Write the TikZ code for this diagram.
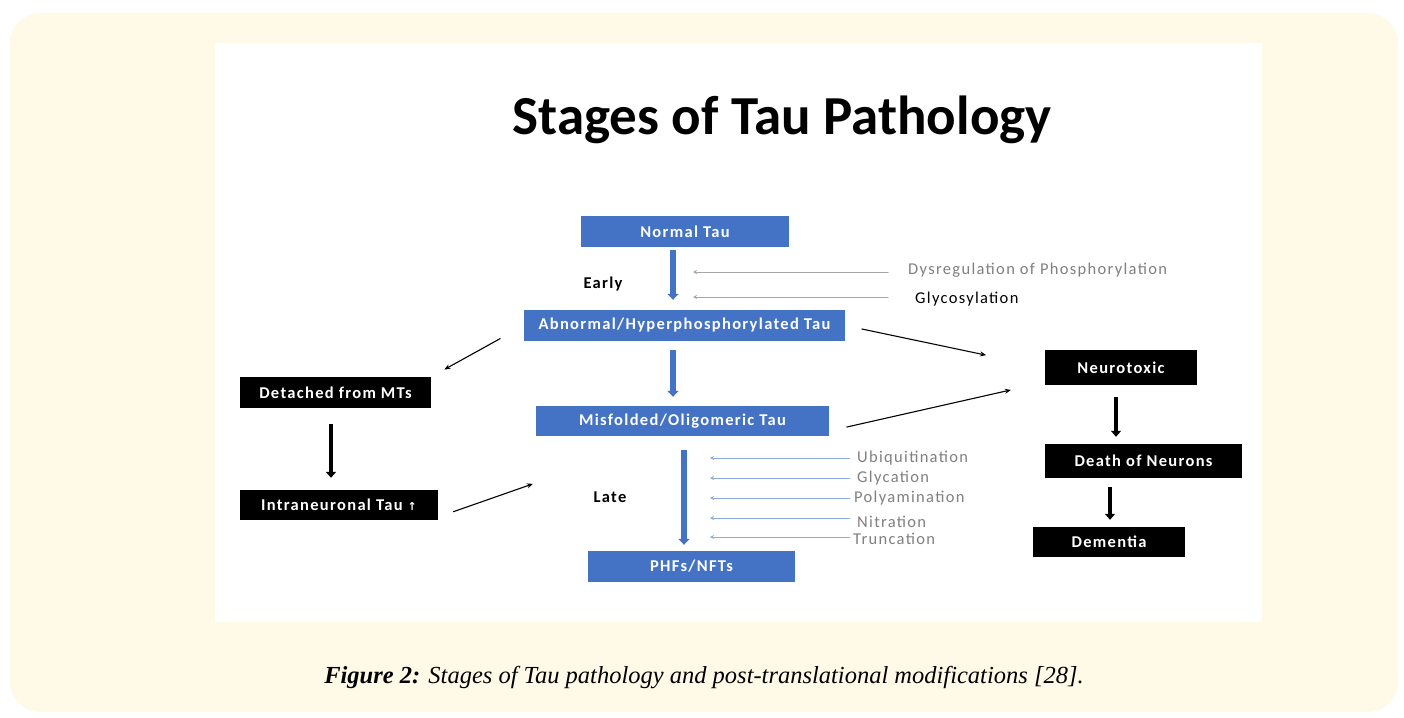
\documentclass[tikz,border=0pt]{standalone}
\usepackage{fontspec}
\setmainfont{Carlito}
\newfontfamily\boxfont[LetterSpace=8]{Carlito}
\newfontfamily\capfont{Liberation Serif}
\newfontfamily\symfont{DejaVu Sans}
\usetikzlibrary{arrows.meta}
\definecolor{taublue}{HTML}{4472C4}
\definecolor{cream}{HTML}{FFFAE8}
\definecolor{modgray}{HTML}{808080}
\definecolor{modblue}{HTML}{8FAADC}

\begin{document}
\begin{tikzpicture}[x=1pt,y=-1pt,line cap=round,line join=round,
    bluebox/.style={fill=taublue, text=white, inner sep=0pt, minimum height=31pt,
      font=\boxfont\fontsize{16.5}{18}\selectfont\bfseries},
    blackbox/.style={fill=black, text=white, inner sep=0pt, minimum height=31pt,
      font=\boxfont\fontsize{16.5}{18}\selectfont\bfseries},
    modlabel/.style={anchor=west, inner sep=0pt, text=modgray,
      font=\boxfont\fontsize{16.5}{18}\selectfont},
    bluearr/.style={-{Triangle[width=11pt,length=6pt]}, taublue, line width=5.5pt, line cap=butt},
    blackarr/.style={-{Triangle[width=10pt,length=6pt]}, black, line width=4.5pt, line cap=butt},
    thinarr/.style={-{Stealth[length=6pt,width=5pt]}, black, line width=1.1pt},
    grayarr/.style={-{Stealth[length=4pt,width=4pt]}, gray!70, line width=1pt},
    modarr/.style={-{Stealth[length=4pt,width=4pt]}, modblue, line width=0.8pt}]
    \useasboundingbox (0,0) rectangle (1404,717);
    % page background
    \fill[cream, rounded corners=30pt] (10,13) rectangle (1398,712);
    \fill[white] (215,43) rectangle (1262,622);
    \node[anchor=base] (title) at (782,134) {\fontsize{55}{62}\selectfont\bfseries Stages of Tau Pathology};

    % main pathway
    \node[bluebox, minimum width=208pt] (norm) at (685,231.5) {Normal Tau};
    \node[bluebox, minimum width=321pt] (abn) at (684.5,325.5) {Abnormal/Hyperphosphorylated Tau};
    \node[bluebox, minimum width=293pt, minimum height=30pt] (misf) at (682.5,421) {Misfolded/Oligomeric Tau};
    \node[bluebox, minimum width=207pt] (phf) at (691.5,566.5) {PHFs/NFTs};
    \node[font=\boxfont\fontsize{16.5}{18}\selectfont\bfseries] (early) at (603,284) {Early};
    \node[font=\boxfont\fontsize{16.5}{18}\selectfont\bfseries] (late) at (610,497) {Late};

    \draw[bluearr, shorten <=3pt, shorten >=10pt] ([xshift=-12pt]norm.south) -- ([xshift=-12pt]norm.south |- abn.north);
    \draw[bluearr, shorten <=9pt, shorten >=9pt] ([xshift=-11.5pt]abn.south) -- ([xshift=-11.5pt]abn.south |- misf.north);
    \draw[bluearr, shorten <=14pt, shorten >=6pt] ([xshift=1.5pt]misf.south) -- ([xshift=1.5pt]misf.south |- phf.north);

    % left branch
    \node[blackbox, minimum width=191pt] (det) at (335.5,392.5) {Detached from MTs};
    \node[blackbox, minimum width=198pt, minimum height=30pt] (intra) at (339,505) {Intraneuronal Tau {\symfont\fontsize{11}{12}\selectfont↑}};
    \draw[blackarr, shorten <=16pt, shorten >=12pt] ([xshift=-4.5pt]det.south) -- ([xshift=-4.5pt]det.south |- intra.north);
    \draw[thinarr, shorten <=27pt, shorten >=15pt] (abn.west) -- (det.north east);
    \draw[thinarr, shorten <=16pt, shorten >=2pt] ([yshift=-12pt]intra.east) -- ([xshift=-1pt,yshift=-47pt]misf.south west);

    % right branch
    \node[blackbox, minimum width=152pt, minimum height=35pt] (neuro) at (1121,367.5) {Neurotoxic};
    \node[blackbox, minimum width=197pt, minimum height=34pt] (death) at (1143.5,461) {Death of Neurons};
    \node[blackbox, minimum width=152pt, minimum height=30pt] (dem) at (1109,542) {Dementia};
    \draw[blackarr, shorten <=12pt, shorten >=7pt] ([xshift=-5pt]neuro.south) -- ([xshift=-5pt]neuro.south |- death.north);
    \draw[blackarr, shorten <=9pt, shorten >=7pt] ([xshift=1pt]dem.north |- death.south) -- ([xshift=1pt]dem.north);
    \draw[thinarr, shorten <=17pt, shorten >=60pt] (abn.east) -- (neuro.west);
    \draw[thinarr, shorten <=18pt, shorten >=2pt] ([yshift=-10pt]misf.east) -- ([xshift=-32pt,yshift=-22pt]neuro.west);

    % early modifications
    \coordinate (estem) at (693,0);
    \node[modlabel] (dys) at (908,270) {Dysregulation of Phosphorylation};
    \node[anchor=west, inner sep=0pt, font=\boxfont\fontsize{16.5}{18}\selectfont] (glyco) at (915,299) {Glycosylation};
    \draw[grayarr, shorten <=20pt] ([yshift=-2pt]dys.west) -- ([yshift=-2pt]estem |- dys.west);
    \draw[grayarr, shorten <=27pt] ([yshift=2pt]glyco.west) -- ([yshift=2pt]estem |- glyco.west);

    % late modifications
    \coordinate (lstem) at (710,0);
    \node[modlabel] (ubi) at (857,458) {Ubiquitination};
    \node[modlabel] (glyca) at (857,478) {Glycation};
    \node[modlabel] (poly) at (854,498) {Polyamination};
    \node[modlabel] (nitr) at (857,522) {Nitration};
    \node[modlabel] (trunc) at (853,539) {Truncation};
    \draw[modarr, shorten <=7pt] (ubi.west) -- (lstem |- ubi.west);
    \draw[modarr, shorten <=7pt] (glyca.west) -- (lstem |- glyca.west);
    \draw[modarr, shorten <=4pt] (poly.west) -- (lstem |- poly.west);
    \draw[modarr, shorten <=7pt] ([yshift=4pt]nitr.west) -- ([yshift=4pt]lstem |- nitr.west);
    \draw[modarr, shorten <=3pt] ([yshift=2pt]trunc.west) -- ([yshift=2pt]lstem |- trunc.west);

    % caption
    \node (cap) at (704,678) {\capfont\fontsize{24.5}{28}\selectfont\bfseries\itshape Figure 2:\mdseries{} Stages of Tau pathology and post-translational modifications [28].};
\end{tikzpicture}
\end{document}
